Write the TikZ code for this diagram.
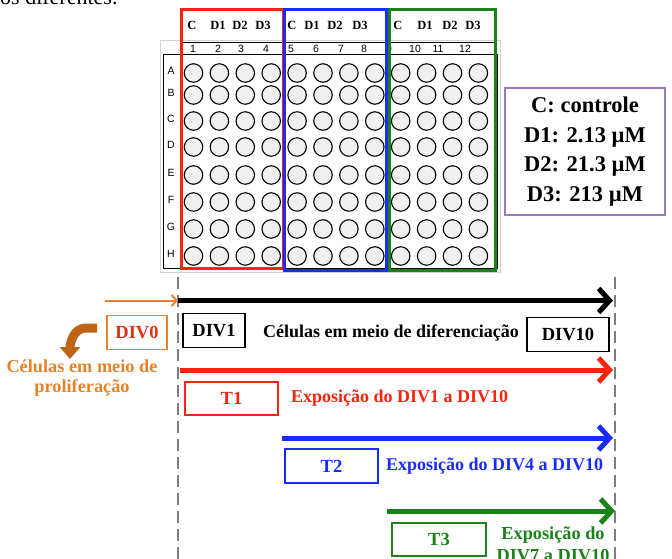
\documentclass[tikz,border=0pt]{standalone}
\usepackage{fontspec}
\setmainfont{Liberation Serif}
\newfontfamily\platefont{Liberation Sans}
\usepackage{tikz}
\usetikzlibrary{arrows.meta}
\usetikzlibrary{positioning}
\usepackage{color}
\definecolor{grpred}{RGB}{250, 35, 15}
\definecolor{grpblue}{RGB}{25, 45, 250}
\definecolor{grpgreen}{RGB}{25, 130, 25}
\definecolor{lavender}{RGB}{150, 120, 195}
\definecolor{carrot}{RGB}{232, 130, 40}
\definecolor{rust}{RGB}{190, 100, 20}
\definecolor{vermilion}{RGB}{225, 50, 20}
\definecolor{wellgray}{RGB}{240, 240, 240}
\definecolor{dashgray}{RGB}{125, 125, 125}

\tikzset{
  well/.style     = {circle, draw, line width=1.1, fill=wellgray, minimum size=18.5, inner sep=0},
  platetxt/.style = {font=\platefont\fontsize{10.5}{10.5}\selectfont, inner sep=0},
  hdr/.style      = {font=\bfseries\fontsize{12.5}{12.5}\selectfont, inner sep=0},
  grpbox/.style   = {line width=3},
  stage/.style    = {draw, line width=1.8, font=\bfseries\fontsize{18.5}{18.5}\selectfont, inner sep=0, minimum height=34},
  note/.style     = {font=\bfseries\fontsize{18}{21}\selectfont, inner sep=0, align=center},
  phase/.style    = {line width=5, -{Straight Barb[length=11pt, width=24pt]}},
  divline/.style  = {dashgray, line width=2.5, dash pattern=on 12pt off 6pt}
}

\begin{document}
\begin{tikzpicture}[x=1pt, y=-1pt]
  \useasboundingbox (0,0) rectangle (672,559);

  % text of the page above the figure
  \node[anchor=base west, inner sep=0, font=\fontsize{22}{22}\selectfont] (pagetext) at (0,5) {os diferentes.};

  % ---- 96-well plate ----
  \draw[gray!35]               (160,40) rectangle (500,272);
  \draw[line width=1]          (163,55) rectangle (497,268);
  \draw[line width=0.8]        (180,42) -- (495,42);
  \foreach \xx [count=\n] in {193,218,241,266,291,316,341,364,389,415,438,465}
    \node[platetxt] (num\n) at (\xx,48.5) {\n};
  \foreach \yy/\r in {73/A,95/B,121/C,147/D,175/E,202/F,229/G,256/H}{
    \node[platetxt] (row\r) at (171,\yy-2) {\r};
    \foreach \c in {0,...,11}
      \node[well] (w\r\c) at ({193.5+25.9*\c},\yy) {};
  }

  % dose groups
  \draw[grpbox, grpred]   (181,10) rectangle (283,268);
  \draw[grpbox, grpblue]  (284,10) rectangle (386,270);
  \draw[grpbox, grpgreen] (389,10) rectangle (495,270);
  \foreach \xx/\d in {192/C,218/D1,240/D2,263/D3,292/C,312/D1,335/D2,360/D3,398/C,425/D1,450/D2,473/D3}
    \node[hdr] (hdr\xx) at (\xx,25) {\d};

  % legend
  \node[draw=lavender, line width=1.5, minimum width=160, minimum height=127, align=center,
        font=\bfseries\fontsize{22.5}{29.7}\selectfont] (legend) at (585,151.5)
        {C: controle\\D1: 2.13 µM\\D2: 21.3 µM\\D3: 213 µM};

  % ---- time line ----
  \coordinate (div1top)  at (178,277);
  \coordinate (div1bot)  at (178,566);
  \coordinate (div10top) at (615,277);
  \coordinate (div10bot) at (615,566);
  \draw[divline] (div1top) -- (div1bot);
  \draw[divline] (div10top) -- (div10bot);

  \coordinate (prostart) at (105,300.5);
  \coordinate (difstart) at (178,300.5);
  \coordinate (difend)   at (613,300.5);
  \coordinate (t1start)  at (180,370);
  \coordinate (t1end)    at (613,370);
  \coordinate (t2start)  at (282,438);
  \coordinate (t2end)    at (613,438);
  \coordinate (t3start)  at (387,511);
  \coordinate (t3end)    at (615,511);

  \draw[carrot, line width=2, -{Straight Barb[length=5pt, width=11pt]}] (prostart) -- (difstart);
  \draw[phase]           (difstart) -- (difend);
  \draw[phase, grpred]   (t1start)  -- (t1end);
  \draw[phase, grpblue]  (t2start)  -- (t2end);
  \draw[phase, grpgreen] (t3start)  -- (t3end);

  % stages
  \node[stage, draw=carrot, text=vermilion, minimum width=60] (div0)  at (137,332.5) {DIV0};
  \node[stage, minimum width=62]                              (div1)  at (214,330.5) {DIV1};
  \node[stage, minimum width=82]                              (div10) at (568,334.5) {DIV10};
  \node[note] (diff) at (391,333) {Células em meio de diferenciação};

  \coordinate (bendstart) at (97,328);
  \coordinate (bendend)   at (70,359);
  \draw[rust, line width=9, -{Triangle[length=12pt, width=20pt]}]
       (bendstart) -- (86,328) to[out=180, in=90] (bendend);
  \node[note, text=carrot, font=\bfseries\fontsize{18.3}{20}\selectfont] (prolif) at (82,378)
       {Células em meio de\\proliferação};

  % treatments
  \node[stage, draw=grpred,   text=grpred,   minimum width=93, minimum height=33] (t1) at (231.5,398.5) {T1};
  \node[stage, draw=grpblue,  text=grpblue,  minimum width=93]                    (t2) at (331.5,466)   {T2};
  \node[stage, draw=grpgreen, text=grpgreen, minimum width=94, minimum height=33] (t3) at (439,539.5)   {T3};
  \node[note, text=grpred,   anchor=west, right=12pt of t1] (t1txt) {Exposição do DIV1 a DIV10};
  \node[note, text=grpblue,  anchor=west, right=7pt of t2]  (t2txt) {Exposição do DIV4 a DIV10};
  \node[note, text=grpgreen, font=\bfseries\fontsize{18.3}{22}\selectfont] (t3txt) at (553,544)
       {Exposição do\\DIV7 a DIV10};
\end{tikzpicture}
\end{document}
